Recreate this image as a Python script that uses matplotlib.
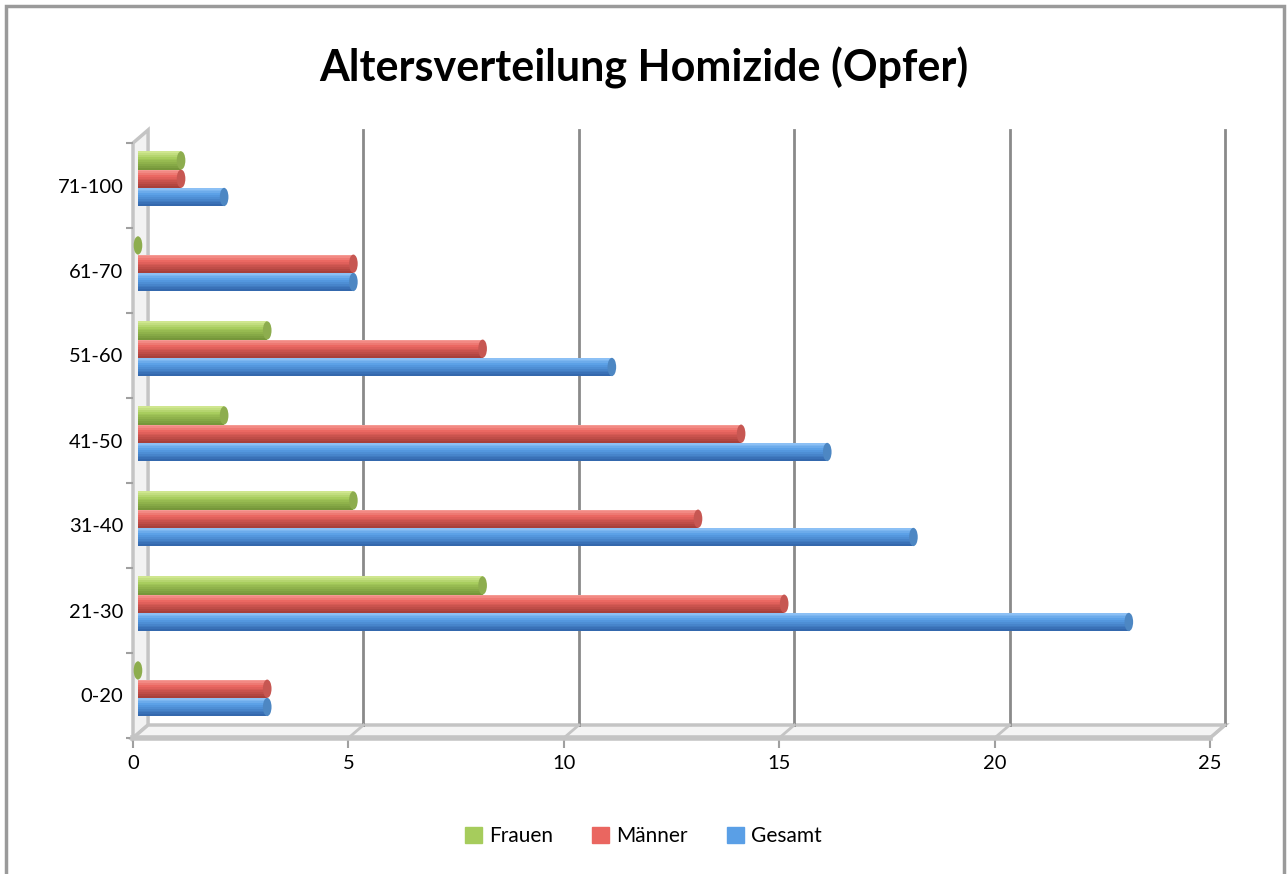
import numpy as np
import matplotlib.pyplot as plt
from matplotlib.patches import Rectangle, Ellipse, Polygon
from matplotlib.colors import to_rgb

# Altersgruppen und Werte (Opfer)
groups = ['0-20', '21-30', '31-40', '41-50', '51-60', '61-70', '71-100']
gesamt = [3, 23, 18, 16, 11, 5, 2]
maenner = [3, 15, 13, 14, 8, 5, 1]
frauen = [0, 8, 5, 2, 3, 0, 1]
x_ticks = [0, 5, 10, 15, 20, 25]

plt.rcParams['font.family'] = ['Lato', 'DejaVu Sans']

W, H = 1287, 874
fig = plt.figure(figsize=(W / 100, H / 100), dpi=100)
ax = fig.add_axes([133 / W, (H - 738) / H, (1210 - 133) / W, 595 / H])
ax.set_xlim(0, 25)
ax.set_ylim(0, 7)
for s in ax.spines.values():
    s.set_visible(False)

DX, DY = 0.35, 0.153   # depth of the pseudo-3D box
wall = '#c4c4c4'

# left wall and floor
ax.add_patch(Polygon([(0, 0), (0, 7), (DX, 7 + DY), (DX, DY)], closed=True,
                     facecolor='#f2f2f2', edgecolor=wall, lw=2.5, zorder=1, clip_on=False))
ax.add_patch(Polygon([(0, 0), (25, 0), (25 + DX, DY), (DX, DY)], closed=True,
                     facecolor='#f4f4f4', edgecolor=wall, lw=2.5, zorder=1, clip_on=False))
for xv in x_ticks[1:]:
    ax.plot([xv + DX, xv + DX], [DY, 7 + DY], color='#8a8a8a', lw=2, zorder=1, clip_on=False)
    ax.plot([xv, xv + DX], [0, DY], color=wall, lw=2, zorder=1, clip_on=False)
ax.plot([0, 25], [0, 0], color=wall, lw=4, zorder=2, clip_on=False)

# bars with cylinder shading
series = [
    (gesamt, 0.365, ('#8cc0f5', '#5a9fe6', '#3468ad')),
    (maenner, 0.58, ('#f59a94', '#ea6660', '#a8403b')),
    (frauen, 0.795, ('#cfe68f', '#a6cc5c', '#76973a')),
]
bh = 0.215
x0 = DX * 0.33
n = 10
for vals, off, (c_top, c_mid, c_bot) in series:
    ys = np.arange(len(groups)) + off
    top, mid, bot = (np.array(to_rgb(c)) for c in (c_top, c_mid, c_bot))
    for k in range(n):
        t = k / (n - 1)
        if t < 0.35:
            c = top + (mid - top) * (t / 0.35)
        else:
            c = mid + (bot - mid) * ((t - 0.35) / 0.65)
        ax.barh(ys + bh / 2 - (k + 0.5) * bh / n, vals, height=bh / n * 1.05,
                left=x0, color=c, lw=0, zorder=3)
    for y, v in zip(ys, vals):
        ax.add_patch(Ellipse((x0 + v, y), 0.2, bh, facecolor=mid * 0.85,
                             edgecolor='none', zorder=4))

# ticks
ax.set_xticks(x_ticks)
ax.tick_params(axis='x', length=7, width=1.5, color='#a0a0a0', pad=5, labelsize=14.5)
ax.set_yticks(range(8))
ax.set_yticklabels([])
ax.tick_params(axis='y', which='major', length=5, width=1.5, color='#a0a0a0')
ax.set_yticks(np.arange(len(groups)) + 0.5, minor=True)
ax.set_yticklabels(groups, minor=True)
ax.tick_params(axis='y', which='minor', length=0, pad=7, labelsize=14.5)

fig.text(0.5, 1 - 68 / H, 'Altersverteilung Homizide (Opfer)', ha='center', va='center',
         fontsize=31, fontweight='bold')

handles = [Rectangle((0, 0), 1, 1, color=c) for c in ('#a6cc5c', '#ea6660', '#5a9fe6')]
fig.legend(handles, ['Frauen', 'Männer', 'Gesamt'], loc='center', bbox_to_anchor=(0.5, 38 / H),
           ncol=3, frameon=False, fontsize=15, handlelength=0.8, handleheight=0.8,
           handletextpad=0.35, columnspacing=1.9)

# chart border
fig.add_artist(Rectangle((6 / W, -0.05), (1284 - 6) / W, 1.05 - 6 / H, transform=fig.transFigure,
                         fill=False, edgecolor='#9a9a9a', lw=2.5))

fig.savefig('out.png', dpi=100)
